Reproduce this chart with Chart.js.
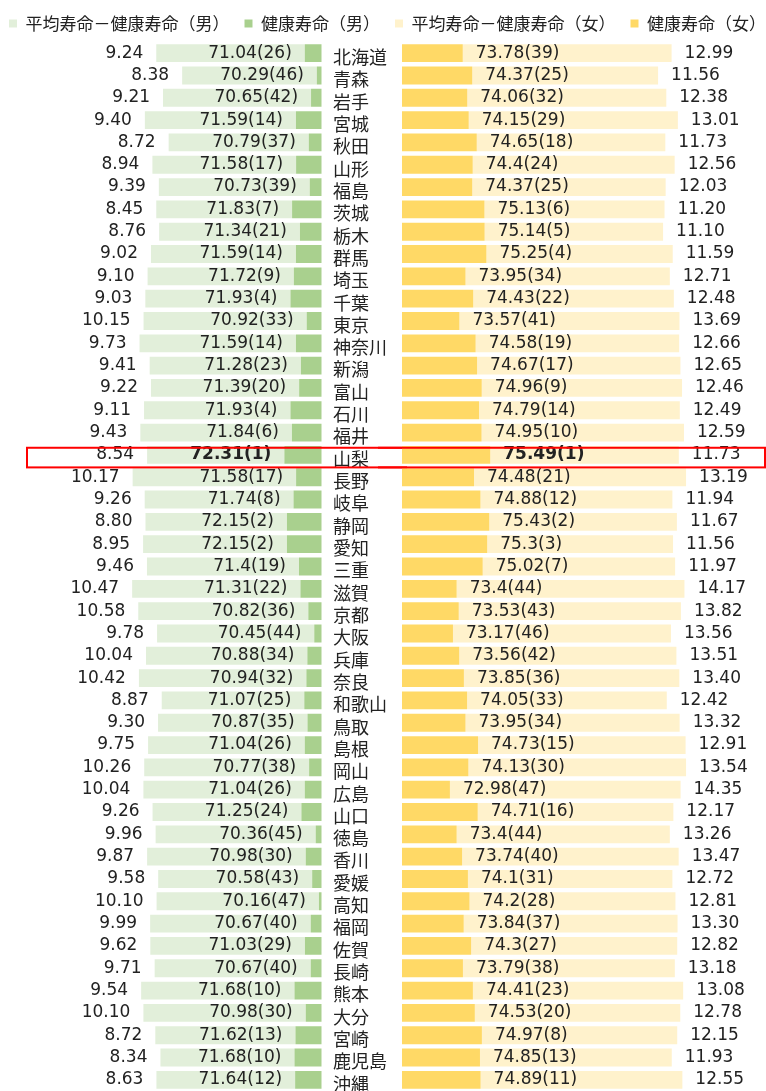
<!DOCTYPE html>
<html lang="ja">
<head>
<meta charset="UTF-8">
<title>都道府県別 健康寿命と平均寿命との差</title>
<script src="https://cdn.jsdelivr.net/npm/chart.js"></script>
<style>
    body { margin: 0; background: #fff; overflow: hidden; }
    .wrap { position: relative; width: 766px; height: 1091px; overflow: hidden; }
    .wrap canvas { position: absolute; top: 0; }
    #maleChart { left: -8px; }
    #femaleChart { left: 378px; }
</style>
</head>
<body>
<div class="wrap">
    <canvas id="maleChart" width="415" height="1091"></canvas>
    <canvas id="femaleChart" width="415" height="1091"></canvas>
</div>
<script>
const prefectures = ['北海道','青森','岩手','宮城','秋田','山形','福島','茨城','栃木','群馬',
    '埼玉','千葉','東京','神奈川','新潟','富山','石川','福井','山梨','長野',
    '岐阜','静岡','愛知','三重','滋賀','京都','大阪','兵庫','奈良','和歌山',
    '鳥取','島根','岡山','広島','山口','徳島','香川','愛媛','高知','福岡',
    '佐賀','長崎','熊本','大分','宮崎','鹿児島','沖縄'];

// 健康寿命（男）と順位
const maleHealthy = [71.04,70.29,70.65,71.59,70.79,71.58,70.73,71.83,71.34,71.59,
    71.72,71.93,70.92,71.59,71.28,71.39,71.93,71.84,72.31,71.58,
    71.74,72.15,72.15,71.4,71.31,70.82,70.45,70.88,70.94,71.07,
    70.87,71.04,70.77,71.04,71.25,70.36,70.98,70.58,70.16,70.67,
    71.03,70.67,71.68,70.98,71.62,71.68,71.64];
const maleRank = [26,46,42,14,37,17,39,7,21,14,
    9,4,33,14,23,20,4,6,1,17,
    8,2,2,19,22,36,44,34,32,25,
    35,26,38,26,24,45,30,43,47,40,
    29,40,10,30,13,10,12];
// 平均寿命－健康寿命（男）
const maleGap = [9.24,8.38,9.21,9.40,8.72,8.94,9.39,8.45,8.76,9.02,
    9.10,9.03,10.15,9.73,9.41,9.22,9.11,9.43,8.54,10.17,
    9.26,8.80,8.95,9.46,10.47,10.58,9.78,10.04,10.42,8.87,
    9.30,9.75,10.26,10.04,9.26,9.96,9.87,9.58,10.10,9.99,
    9.62,9.71,9.54,10.10,8.72,8.34,8.63];

// 健康寿命（女）と順位
const femaleHealthy = [73.78,74.37,74.06,74.15,74.65,74.4,74.37,75.13,75.14,75.25,
    73.95,74.43,73.57,74.58,74.67,74.96,74.79,74.95,75.49,74.48,
    74.88,75.43,75.3,75.02,73.4,73.53,73.17,73.56,73.85,74.05,
    73.95,74.73,74.13,72.98,74.71,73.4,73.74,74.1,74.2,73.84,
    74.3,73.79,74.41,74.53,74.97,74.85,74.89];
const femaleRank = [39,25,32,29,18,24,25,6,5,4,
    34,22,41,19,17,9,14,10,1,21,
    12,2,3,7,44,43,46,42,36,33,
    34,15,30,47,16,44,40,31,28,37,
    27,38,23,20,8,13,11];
// 平均寿命－健康寿命（女）
const femaleGap = [12.99,11.56,12.38,13.01,11.73,12.56,12.03,11.20,11.10,11.59,
    12.71,12.48,13.69,12.66,12.65,12.46,12.49,12.59,11.73,13.19,
    11.94,11.67,11.56,11.97,14.17,13.82,13.56,13.51,13.40,12.42,
    13.32,12.91,13.54,14.35,12.17,13.26,13.47,12.72,12.81,13.30,
    12.82,13.18,13.08,12.78,12.15,11.93,12.55];

const highlight = '山梨';

const numFont = '"DejaVu Sans", "Noto Sans CJK JP", sans-serif';
const jpFont = '"Noto Sans CJK JP", sans-serif';
const textColor = '#222';

// value labels at the bar ends + red frame around the highlighted prefecture
const valueLabels = {
    id: 'valueLabels',
    afterDatasetsDraw(chart, args, opts) {
        const ctx = chart.ctx;
        const hMeta = chart.getDatasetMeta(0);
        const gMeta = chart.getDatasetMeta(1);
        const dir = opts.side === 'left' ? -1 : 1;
        ctx.save();
        ctx.fillStyle = textColor;
        ctx.textBaseline = 'middle';
        ctx.textAlign = dir < 0 ? 'right' : 'left';
        opts.healthy.forEach((v, i) => {
            const hb = hMeta.data[i];
            const gb = gMeta.data[i];
            const bold = prefectures[i] === highlight;
            ctx.font = (bold ? 'bold ' : '') + '17px ' + numFont;
            ctx.fillText(v + '(' + opts.rank[i] + ')', hb.x + dir * 13, hb.y);
            ctx.font = '17px ' + numFont;
            ctx.fillText(opts.gap[i].toFixed(2), gb.x + dir * 13, gb.y);
        });

        // frame spans the whole row, page x 27 .. 765
        const hi = prefectures.indexOf(highlight);
        const bar = hMeta.data[hi];
        const top = bar.y - bar.height * 0.4;
        const bottom = bar.y + bar.height * 0.7;
        ctx.strokeStyle = '#ff0000';
        ctx.lineWidth = 2;
        ctx.strokeRect(27 - opts.offset, top, 738, bottom - top);
        ctx.restore();
    }
};

function legendOpts() {
    return {
        position: 'top',
        reverse: true,
        labels: {
            boxWidth: 8,
            boxHeight: 8,
            padding: 15,
            color: textColor,
            font: { family: jpFont, size: 17 }
        }
    };
}

new Chart(document.getElementById('maleChart'), {
    type: 'bar',
    data: {
        labels: prefectures,
        datasets: [
            { label: '健康寿命（男）', data: maleHealthy, backgroundColor: '#A9D08E' },
            { label: '平均寿命－健康寿命（男）', data: maleGap, backgroundColor: '#E2EFDA' }
        ]
    },
    options: {
        indexAxis: 'y',
        responsive: false,
        animation: false,
        categoryPercentage: 0.8,
        barPercentage: 1,
        layout: { padding: { left: 0, right: 10, top: 0, bottom: 0 } },
        scales: {
            x: { stacked: true, reverse: true, min: 70, max: 90.5, display: false },
            y: {
                stacked: true,
                position: 'right',
                grid: { display: false, drawTicks: false },
                border: { display: false },
                ticks: {
                    autoSkip: false,
                    padding: 11.5,
                    labelOffset: 4,
                    color: textColor,
                    font: { family: jpFont, size: 18 }
                },
                afterFit(scale) {
                    scale.width = 75.5;
                    scale.paddingTop = 0;
                    scale.paddingBottom = 0;
                }
            }
        },
        plugins: {
            legend: legendOpts(),
            tooltip: { enabled: false },
            valueLabels: { side: 'left', healthy: maleHealthy, rank: maleRank, gap: maleGap, offset: -8 }
        }
    },
    plugins: [valueLabels]
});

new Chart(document.getElementById('femaleChart'), {
    type: 'bar',
    data: {
        labels: prefectures,
        datasets: [
            { label: '健康寿命（女）', data: femaleHealthy, backgroundColor: '#FFD966' },
            { label: '平均寿命－健康寿命（女）', data: femaleGap, backgroundColor: '#FFF2CC' }
        ]
    },
    options: {
        indexAxis: 'y',
        responsive: false,
        animation: false,
        categoryPercentage: 0.8,
        barPercentage: 1,
        layout: { padding: { left: 0, right: 10, top: 0, bottom: 0 } },
        scales: {
            x: { stacked: true, min: 70, max: 93.7, display: false },
            y: {
                stacked: true,
                grid: { display: false, drawTicks: false },
                border: { display: false },
                ticks: { display: false },
                afterFit(scale) {
                    scale.width = 24;
                    scale.paddingTop = 0;
                    scale.paddingBottom = 0;
                }
            }
        },
        plugins: {
            legend: legendOpts(),
            tooltip: { enabled: false },
            valueLabels: { side: 'right', healthy: femaleHealthy, rank: femaleRank, gap: femaleGap, offset: 378 }
        }
    },
    plugins: [valueLabels]
});
</script>
</body>
</html>
